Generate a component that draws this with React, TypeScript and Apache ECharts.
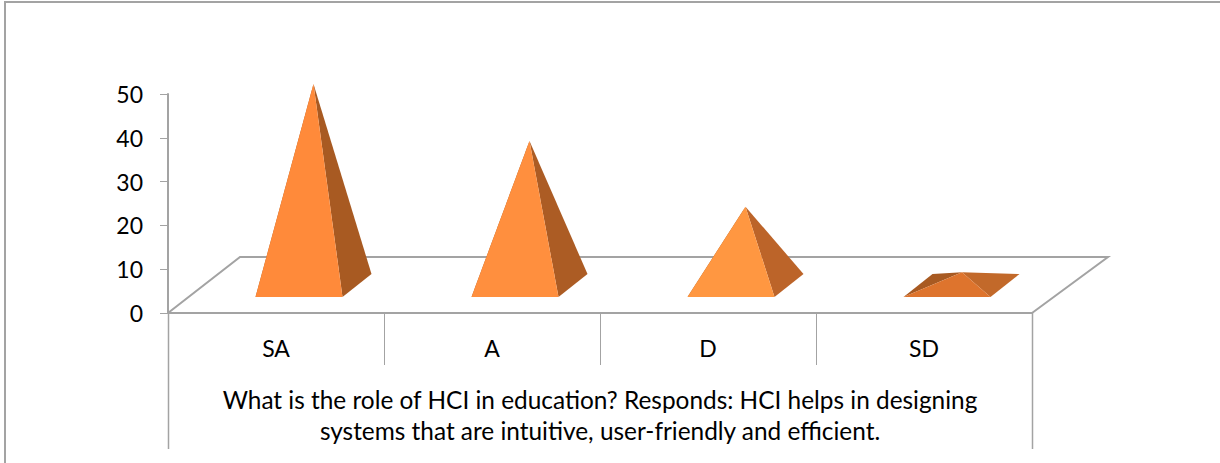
import React, { useEffect, useRef } from "react";
import * as echarts from "echarts";

const categories = ["SA", "A", "D", "SD"];
const values = [46, 33, 18, 3];
const frontColors = ["#FF8A3A", "#FF8F3E", "#FF9741", "#DE742D"];
const rightColors = ["#A85A22", "#AC5C24", "#BC6429", "#C2692A"];
const leftColor = "#A85A22";
const axisColor = "#A3A3A3";
const yTicks = { min: 0, max: 50, interval: 10 };
const axisTitle =
  "What is the role of HCI in education? Responds: HCI helps in designing\nsystems that are intuitive, user-friendly and efficient.";

export default function App() {
  const ref = useRef<HTMLDivElement>(null);
  useEffect(() => {
    document.body.style.margin = "0";
    const chart = echarts.init(ref.current!, null, { renderer: "svg" });
    const fontFamily = "Lato, 'Open Sans', sans-serif";
    chart.setOption({
      animation: false,
      backgroundColor: "#fff",
      grid: { left: 168, top: 94, width: 864, height: 219 },
      xAxis: {
        type: "category",
        data: categories,
        axisLine: { lineStyle: { color: axisColor, width: 2 } },
        axisTick: { show: true, length: 52, alignWithLabel: false, lineStyle: { color: axisColor, width: 1 } },
        axisLabel: { color: "#000", fontFamily, fontSize: 23, margin: 23 },
        name: axisTitle,
        nameLocation: "middle",
        nameGap: 71,
        nameTextStyle: { color: "#000", fontFamily, fontSize: 24.4, lineHeight: 31 },
      },
      yAxis: {
        type: "value",
        min: yTicks.min,
        max: yTicks.max,
        interval: yTicks.interval,
        splitLine: { show: false },
        axisLine: { show: true, lineStyle: { color: axisColor, width: 2 } },
        axisTick: { show: true, length: 8, lineStyle: { color: axisColor, width: 1 } },
        axisLabel: { color: "#000", fontFamily, fontSize: 23, margin: 25 },
      },
      graphic: [
        {
          type: "polyline",
          silent: true,
          shape: { points: [[5, 463], [5, 2], [1220, 2]] },
          style: { stroke: axisColor, lineWidth: 2, fill: "none" },
        },
        {
          type: "line",
          shape: { x1: 168.5, y1: 313, x2: 168.5, y2: 449 },
          style: { stroke: axisColor, lineWidth: 1.5 },
        },
        {
          type: "line",
          shape: { x1: 1032.5, y1: 313, x2: 1032.5, y2: 449 },
          style: { stroke: axisColor, lineWidth: 1.5 },
        },
      ],
      series: [
        {
          type: "custom",
          silent: true,
          z: 1,
          data: [[0]],
          renderItem: (params: any) => {
            const c = params.coordSys;
            const x0 = c.x;
            const x1 = c.x + c.width;
            const y0 = c.y + c.height;
            return {
              type: "polyline",
              shape: {
                points: [[x0, y0], [x0 + 72, y0 - 56], [x1 + 76, y0 - 56], [x1, y0]],
              },
              style: { stroke: axisColor, lineWidth: 2, fill: "none" },
            };
          },
        },
        {
          type: "custom",
          silent: true,
          z: 3,
          encode: { x: 0, y: 1 },
          data: values.map((v, i) => [i, v]),
          renderItem: (params: any, api: any) => {
            const i = api.value(0);
            const [cx, y] = api.coord([i, 0]);
            const [, top] = api.coord([i, api.value(1)]);
            const bx = cx + 37.5;
            const by = y - 27.5;
            const ax = bx + (i === 3 ? 0.5 : 0);
            const ay = top - 27.5;
            const hw = 43.5;
            const dx = 14.5;
            const dy = 11.5;
            const fl: number[] = [bx - hw - dx, by + dy];
            const fr: number[] = [bx + hw - dx, by + dy];
            const br: number[] = [bx + hw + dx, by - dy];
            const bl: number[] = [bx - hw + dx, by - dy];
            const apex: number[] = [ax, ay];
            const face = (points: number[][], fill: string) => ({
              type: "polygon",
              shape: { points },
              style: { fill },
            });
            return {
              type: "group",
              children: [
                face([fl, bl, apex], leftColor),
                face([fr, br, apex], rightColors[i]),
                face([fl, fr, apex], frontColors[i]),
              ],
            };
          },
        },
      ],
    });
    return () => chart.dispose();
  }, []);
  return <div ref={ref} style={{ width: 1220, height: 463 }} />;
}
